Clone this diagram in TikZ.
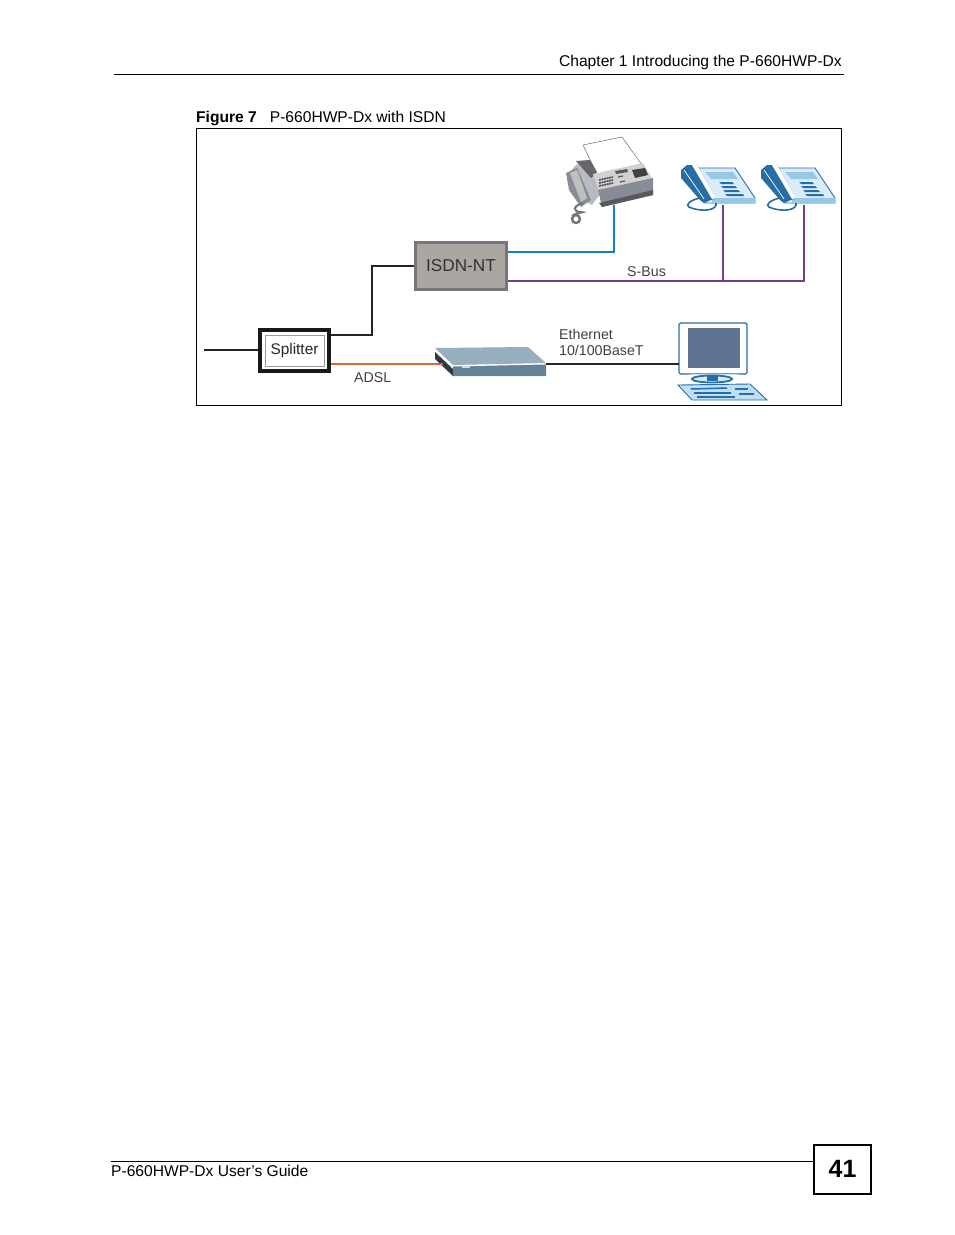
\documentclass[tikz,border=0pt]{standalone}
\usepackage{fontspec}
\setmainfont{Liberation Sans}
\definecolor{phoneblue}{RGB}{38,110,165}
\definecolor{phonelight}{RGB}{150,200,232}
\definecolor{faxgray}{RGB}{135,140,150}
\definecolor{routertop}{RGB}{150,175,190}
\definecolor{routerfront}{RGB}{100,130,150}
\definecolor{screenblue}{RGB}{95,115,145}
\definecolor{isdngray}{RGB}{170,166,162}
\definecolor{isdnedge}{RGB}{118,118,124}
\definecolor{sbus}{RGB}{115,60,145}
\definecolor{fone}{RGB}{25,125,190}
\definecolor{adsl}{RGB}{215,105,55}
\tikzset{
	pagetext/.style={inner sep=0pt,anchor=base west,font=\fontsize{15.6}{15.6}\selectfont},
	labeltext/.style={inner sep=0pt,anchor=base west,text=black!75,font=\fontsize{14.2}{16}\selectfont},
	port/.style={inner sep=0pt,minimum size=0pt},
	wire/.style={line width=2pt},
}
\begin{document}
\begin{tikzpicture}[x=1pt,y=-1pt]

	\useasboundingbox (0,0) rectangle (954,1235);
	\fill[white] (0,0) rectangle (954,1235);

	% page header and footer
	\draw[line width=1pt] (114,74.5) -- (844,74.5);
	\node[pagetext,anchor=base east] (chapter) at (842,66) {Chapter 1 Introducing the P-660HWP-Dx};
	\node[pagetext] (caption) at (196,122) {\textbf{Figure 7}\hspace{13pt}P-660HWP-Dx with ISDN};
	\draw[line width=1pt] (111,1161) -- (814,1161);
	\node[pagetext] (guide) at (111,1176) {P-660HWP-Dx User’s Guide};
	\node[draw,line width=1.6pt,minimum width=57pt,minimum height=49pt,font=\fontsize{25}{25}\selectfont\bfseries] (pagenum) at (842.5,1169.5) {\raisebox{1pt}{41}\hspace{1pt}};

	% figure frame
	\draw[line width=0.9pt] (196.5,128.5) rectangle (841.5,405.5);

	% fax
	\fill[white] (583,145) -- (622,137) -- (642,163) -- (595,172) -- cycle;
	\draw[line width=0.4pt,black!70] (583,145) -- (622,137) -- (642,165);
	\draw[line width=0.4pt,black!70] (583,145) -- (596,172);
	\fill[faxgray!60] (576,165) -- (590,160) -- (598,175) -- (603,190) -- (592,205) -- (575,195) -- (567,175) -- cycle;
	\fill[black!60] (576,161) -- (590,160) -- (597,172) -- (591,178) -- cycle;
	\fill[black!18] (593,174) -- (643,163) -- (653,180) -- (600,194) -- cycle;
	\fill[faxgray] (598,190) -- (653,178) -- (653,195) -- (602,207) -- cycle;
	\fill[black!65] (599,203) -- (653,190) -- (653,195) -- (602,207) -- cycle;
	\fill[black!75] (632,170) -- (645,168) -- (648,175) -- (635,178) -- cycle;
	\fill[black!65] (615,171) -- (627,169) -- (628,172) -- (616,174) -- cycle;
	\foreach \rowy in {0,1,2} {
		\draw[black!70,line width=1.6pt,dash pattern=on 2pt off 0.6pt] (599,{180+3*\rowy}) -- (613,{177+3*\rowy});
	}
	\draw[black!65,line width=1.2pt] (618,177) -- (623,176);
	\draw[black!65,line width=1.2pt] (620,182) -- (625,181);
	\fill[faxgray] (566,173) -- (577,168) -- (591,200) -- (581,207) -- (569,190) -- cycle;
	\fill[black!25] (570,173) -- (577,170) -- (587,198) -- (581,202) -- cycle;
	\draw[black!55,line width=2pt] (583,203) .. controls (572,206) and (573,212) .. (581,212) .. controls (586,212) and (575,213) .. (572,216);
	\draw[black!55,line width=2.4pt] (576,219) circle[radius=4];
	\node[port] (fax) at (614,205) {};

	% phones
	\foreach \phonex/\portx/\phonename in {0/723/phonea,80/724/phoneb} {
		\begin{scope}[xshift=\phonex pt]
			\fill[phonelight!35] (698,168) -- (735,168) -- (755,198) -- (717,198) -- cycle;
			\draw[phoneblue,line width=0.9pt] (698,168) -- (735,168) -- (755,198) -- (755,203) -- (705,203) -- (698,197);
			\fill[phonelight] (705,172) -- (733,172) -- (738,179) -- (711,179) -- cycle;
			\fill[phonelight] (712,198) -- (755,198) -- (755,203) -- (712,203) -- cycle;
			\fill[phoneblue] (719,182) -- (732,182) -- (734,184) -- (721,184) -- cycle;
			\fill[phoneblue] (721,186) -- (735,186) -- (737,188) -- (723,188) -- cycle;
			\fill[phoneblue] (723,190) -- (738,190) -- (740,192) -- (725,192) -- cycle;
			\fill[phoneblue] (725,194) -- (743,194) -- (744,196) -- (727,196) -- cycle;
			\fill[phoneblue] (681,170) -- (687,165) -- (697,165) -- (716,198) -- (704,203) -- (700,200) -- (681,178) -- cycle;
			\fill[white] (692,165) -- (697,165) -- (716,198) -- (712,199) -- cycle;
			\draw[white,line width=0.7pt] (684,170) -- (704,199);
			\draw[phoneblue,line width=1.6pt] (700,198) .. controls (690,200) and (685,205) .. (689,207) .. controls (697,211) and (714,212) .. (716,205) -- (716,203);
			\node[port] (\phonename) at (\portx,205) {};
		\end{scope}
	}

	% router
	\fill[routertop] (435,348) -- (528,347) -- (546,363) -- (453,365) -- cycle;
	\fill[routerfront] (453,366) -- (546,364) -- (546,376) -- (453,376) -- cycle;
	\fill[black!55!routerfront] (435,352) -- (453,369) -- (453,376) -- (435,359) -- cycle;
	\draw[white,line width=0.9pt] (435,350.5) -- (453,366) -- (546,364);
	\fill[black!15] (462,366) rectangle (470,368);
	\node[port,minimum width=110pt,minimum height=30pt] (router) at (491,364) {};

	% computer
	\draw[phoneblue,line width=1.2pt,fill=white,rounded corners=1.5pt] (679,323) rectangle (747,374);
	\fill[screenblue] (688,328) rectangle (740,368);
	\fill[phonelight!50] (690,374) rectangle (738,375);
	\draw[phoneblue,line width=1.8pt,fill=phonelight!40] (712,379) ellipse[x radius=20,y radius=3.5];
	\fill[phoneblue] (707,376) rectangle (718,381);
	\fill[phonelight!60] (678,385) -- (750,384) -- (767,400) -- (692,400) -- cycle;
	\draw[phoneblue,line width=0.9pt] (678,385) -- (750,384) -- (767,400) -- (692,400) -- cycle;
	\draw[phoneblue,line width=1.5pt] (691,389) -- (727,388);
	\draw[phoneblue,line width=1.5pt] (694,393) -- (731,393);
	\draw[phoneblue,line width=1.5pt] (697,397) -- (735,397);
	\draw[phoneblue,line width=1.5pt] (735,389) -- (748,389);
	\draw[phoneblue,line width=1.5pt] (739,394) -- (754,394);
	\node[port] (pc) at (679,364) {};

	% boxes
	\node[draw=isdnedge,fill=isdngray,line width=3.5pt,minimum width=91pt,minimum height=47pt,inner sep=0pt,text=black!80,font=\fontsize{17.2}{18}\selectfont] (isdn) at (461,266) {ISDN-NT};
	\node[draw=black!90,line width=3.5pt,minimum width=69pt,minimum height=41pt,inner sep=0pt] (splitter) at (294.5,350.5) {};
	\node[draw=black!40,line width=0.5pt,minimum width=59pt,minimum height=31pt,inner sep=0pt,text=black!85,font=\fontsize{15.4}{16}\selectfont] (splitterin) at (294.5,350.5) {\raisebox{-1pt}{Splitter}};
	\coordinate (line) at (204,350);

	% connectors
	\draw[wire,black!85] (line) -- (splitter.west |- line);
	\draw[wire,black!85] (splitter.east |- 0,335) -- (372,335) |- (isdn.west);
	\draw[wire,adsl] (splitter.east |- 0,364) -- (443,364);
	\draw[wire,black!85] (router.east) -- (pc);
	\draw[wire,fone] (isdn.east |- 0,252) -| (fax);
	\draw[wire,sbus] (isdn.east |- 0,281) -| (phoneb);
	\draw[wire,sbus] (phonea) -- (phonea |- 0,281);

	% labels
	\node[labeltext] (sbuslabel) at (627,276) {S-Bus};
	\node[labeltext] (adsllabel) at (354,382) {ADSL};
	\node[labeltext] (ethernet) at (559,339) {Ethernet};
	\node[labeltext] (basetlabel) at (559,355) {10/100BaseT};

\end{tikzpicture}
\end{document}
